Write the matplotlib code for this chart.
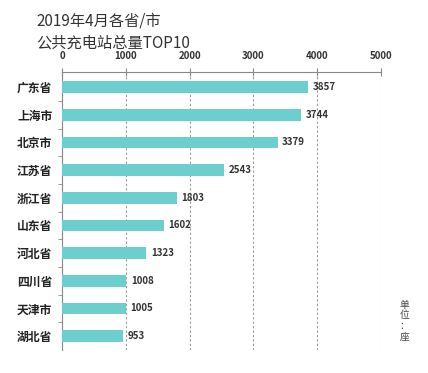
import matplotlib.pyplot as plt

plt.rcParams['font.family'] = ['Noto Sans CJK SC', 'DejaVu Sans']

provinces = ['广东省', '上海市', '北京市', '江苏省', '浙江省', '山东省', '河北省', '四川省', '天津市', '湖北省']
counts = [3857, 3744, 3379, 2543, 1803, 1602, 1323, 1008, 1005, 953]
xticks = [0, 1000, 2000, 3000, 4000, 5000]

fig = plt.figure(figsize=(4.28, 3.73), dpi=100)
ax = fig.add_axes([0.145, 0.062, 0.745, 0.745])

pos = list(range(len(provinces)))
ax.barh(pos, counts, height=0.42, color='#6ccfcd', zorder=3)
for p, v in zip(pos, counts):
    ax.text(v + 70, p, str(v), va='center', ha='left', fontsize=7,
            fontweight='bold', color='#333333')

ax.set_xlim(0, 5000)
ax.set_ylim(9.5, -0.55)
ax.xaxis.tick_top()
ax.set_xticks(xticks)
ax.set_xticklabels([str(t) for t in xticks], fontsize=7, fontweight='bold', color='#333333')
ax.tick_params(axis='x', direction='inout', length=6, width=0.8, color='#888888', pad=5)
ax.set_yticks(pos)
ax.set_yticklabels(provinces, fontsize=8.5, fontweight='bold', color='#222222')
ax.set_yticks([p + 0.5 for p in pos[:-1]], minor=True)
ax.tick_params(axis='y', which='major', length=0, pad=7)
ax.tick_params(axis='y', which='minor', length=3, color='#888888', direction='out')

ax.grid(axis='x', linestyle=(0, (2, 2)), color='#999999', linewidth=0.8, zorder=0)
for s in ['right', 'bottom']:
    ax.spines[s].set_visible(False)
ax.spines['top'].set_color('#888888')
ax.spines['left'].set_color('#888888')

fig.text(0.085, 0.945, '2019年4月各省/市', fontsize=11, color='#333333', va='center')
fig.text(0.085, 0.885, '公共充电站总量TOP10', fontsize=11, color='#333333', va='center')
fig.text(0.945, 0.14, '单\n位\n：\n座', fontsize=7, color='#444444', ha='center', va='center',
         linespacing=1.1)

fig.savefig('out.png', dpi=100)
